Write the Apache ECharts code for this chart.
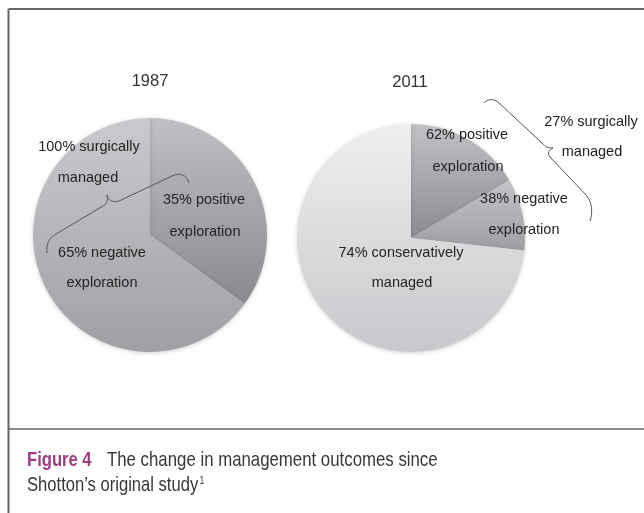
<!DOCTYPE html>
<html><head><meta charset="utf-8">
<script src="https://cdn.jsdelivr.net/npm/echarts@6/dist/echarts.min.js"></script>
<style>html,body{margin:0;padding:0;background:#fff}#c{width:644px;height:513px}</style>
</head><body><div id="c"></div>
<script>
// ---- data ----
const years = ['1987', '2011'];
const names1987 = ['35% positive exploration', '65% negative exploration'];
const values1987 = [35, 65];
const names2011 = ['62% positive exploration', '38% negative exploration', '74% conservatively managed'];
const values2011 = [16.7, 10.3, 74];
const groupLabel1987 = ['100% surgically', 'managed'];
const groupLabel2011 = ['27% surgically', 'managed'];
const captionBold = 'Figure 4';
const captionLine1 = 'The change in management outcomes since';
const captionLine2 = 'Shotton\u2019s original study';
const captionSup = '1';

// ---- styles ----
const grads1987 = [['#bfc0c3', '#898a8e'], ['#c9cacd', '#9fa0a4']];
const grads2011 = [['#c0c1c4', '#8b8c90'], ['#c3c4c7', '#9d9ea2'], ['#efeff0', '#c7c8cb']];
function grad(c) {
  return { type: 'linear', x: 0, y: 0, x2: 0, y2: 1,
    colorStops: [{ offset: 0, color: c[0] }, { offset: 1, color: c[1] }] };
}
function pieData(names, vals, grads) {
  return vals.map((v, i) => ({ name: names[i], value: v, itemStyle: { color: grad(grads[i]) } }));
}
const pieBase = {
  type: 'pie', startAngle: 90, clockwise: true, silent: true, animation: false,
  label: { show: false }, labelLine: { show: false },
  itemStyle: { borderWidth: 0, shadowBlur: 4, shadowColor: 'rgba(0,0,0,0.18)', shadowOffsetY: 1 },
  emphasis: { disabled: true }
};

const LF = 'Liberation Sans, Arial, sans-serif';
function label(text, x, y, size, color) {
  return { type: 'text', x: x, y: y, silent: true, z: 100,
    style: { text: text, fontSize: size || 14.5, fontFamily: LF, fill: color || '#232323',
      align: 'center', textAlign: 'center', verticalAlign: 'middle', textVerticalAlign: 'middle' } };
}
function splitName(n) { // "35% positive exploration" -> ["35% positive","exploration"]
  const i = n.lastIndexOf(' ');
  return [n.slice(0, i), n.slice(i + 1)];
}
const n87 = names1987.map(splitName);
const n11 = names2011.map(splitName);

const braceStyle = { fill: null, stroke: '#555', lineWidth: 1 };
function bz(p) { // [x1,y1,cpx1,cpy1,cpx2,cpy2,x2,y2]
  return { type: 'bezierCurve', silent: true, z: 90,
    shape: { x1: p[0], y1: p[1], cpx1: p[2], cpy1: p[3], cpx2: p[4], cpy2: p[5], x2: p[6], y2: p[7] },
    style: braceStyle };
}
function ln(p) {
  return { type: 'line', silent: true, z: 90,
    shape: { x1: p[0], y1: p[1], x2: p[2], y2: p[3] }, style: braceStyle };
}

const graphics = [
  // frame
  { type: 'line', shape: { x1: 8.5, y1: 9, x2: 8.5, y2: 513 }, style: { stroke: '#666', lineWidth: 2 } },
  { type: 'line', shape: { x1: 8.5, y1: 9, x2: 644, y2: 9 }, style: { stroke: '#666', lineWidth: 2 } },
  { type: 'line', shape: { x1: 8.5, y1: 429, x2: 644, y2: 429 }, style: { stroke: '#666', lineWidth: 1.5 } },
  // titles
  label(years[0], 150, 81, 16.5, '#333'),
  label(years[1], 410, 82, 16.5, '#333'),
  // 1987 labels
  label(groupLabel1987[0], 89, 147),
  label(groupLabel1987[1], 88, 178),
  label(n87[0][0], 204, 200),
  label(n87[0][1], 205, 232),
  label(n87[1][0], 102, 253),
  label(n87[1][1], 102, 283),
  // 2011 labels
  label(n11[0][0], 467, 135),
  label(n11[0][1], 468, 167),
  label(n11[1][0], 524, 199),
  label(n11[1][1], 524, 230),
  label(n11[2][0], 401, 253),
  label(n11[2][1], 402, 283),
  label(groupLabel2011[0], 591, 122),
  label(groupLabel2011[1], 592, 152),
  // left brace
  bz([47, 253, 46, 244, 49, 238, 56, 234]),
  ln([56, 234, 103, 206]),
  bz([103, 206, 107, 204, 108, 200, 107, 195]),
  bz([107, 195, 108, 200, 112, 203, 119, 201]),
  ln([119, 201, 172, 176]),
  bz([172, 176, 180, 172, 187, 175, 189, 183]),
  // right brace
  bz([484, 103, 487, 99, 494, 98, 499, 103]),
  ln([499, 103, 542, 143]),
  bz([542, 143, 545, 147, 548, 148, 553, 148]),
  bz([553, 148, 549, 150, 547, 153, 550, 157]),
  ln([550, 157, 587, 196]),
  bz([587, 196, 592, 203, 593, 212, 590, 221]),
  // caption
  { type: 'text', x: 27, y: 460.5, scaleX: 0.79, silent: true,
    style: { text: captionBold, fontSize: 21, fontWeight: 'bold', fontFamily: LF, fill: '#9b3d7f',
      align: 'left', textAlign: 'left', verticalAlign: 'middle', textVerticalAlign: 'middle' } },
  { type: 'text', x: 107, y: 460.5, scaleX: 0.8, silent: true,
    style: { text: captionLine1, fontSize: 21, fontFamily: LF, fill: '#383838',
      align: 'left', textAlign: 'left', verticalAlign: 'middle', textVerticalAlign: 'middle' } },
  { type: 'text', x: 27, y: 485.5, scaleX: 0.79, silent: true,
    style: { text: captionLine2, fontSize: 21, fontFamily: LF, fill: '#383838',
      align: 'left', textAlign: 'left', verticalAlign: 'middle', textVerticalAlign: 'middle' } },
  { type: 'text', x: 199.5, y: 481, scaleX: 0.8, silent: true,
    style: { text: captionSup, fontSize: 11, fontFamily: LF, fill: '#383838',
      align: 'left', textAlign: 'left', verticalAlign: 'middle', textVerticalAlign: 'middle' } }
];

const chart = echarts.init(document.getElementById('c'), null, { renderer: 'canvas' });
chart.setOption({
  animation: false,
  backgroundColor: '#ffffff',
  series: [
    Object.assign({}, pieBase, { name: years[0], center: [150, 235], radius: 117,
      data: pieData(names1987, values1987, grads1987) }),
    Object.assign({}, pieBase, { name: years[1], center: [411, 238], radius: 114,
      data: pieData(names2011, values2011, grads2011) })
  ],
  graphic: { elements: graphics }
});
</script>
</body></html>
